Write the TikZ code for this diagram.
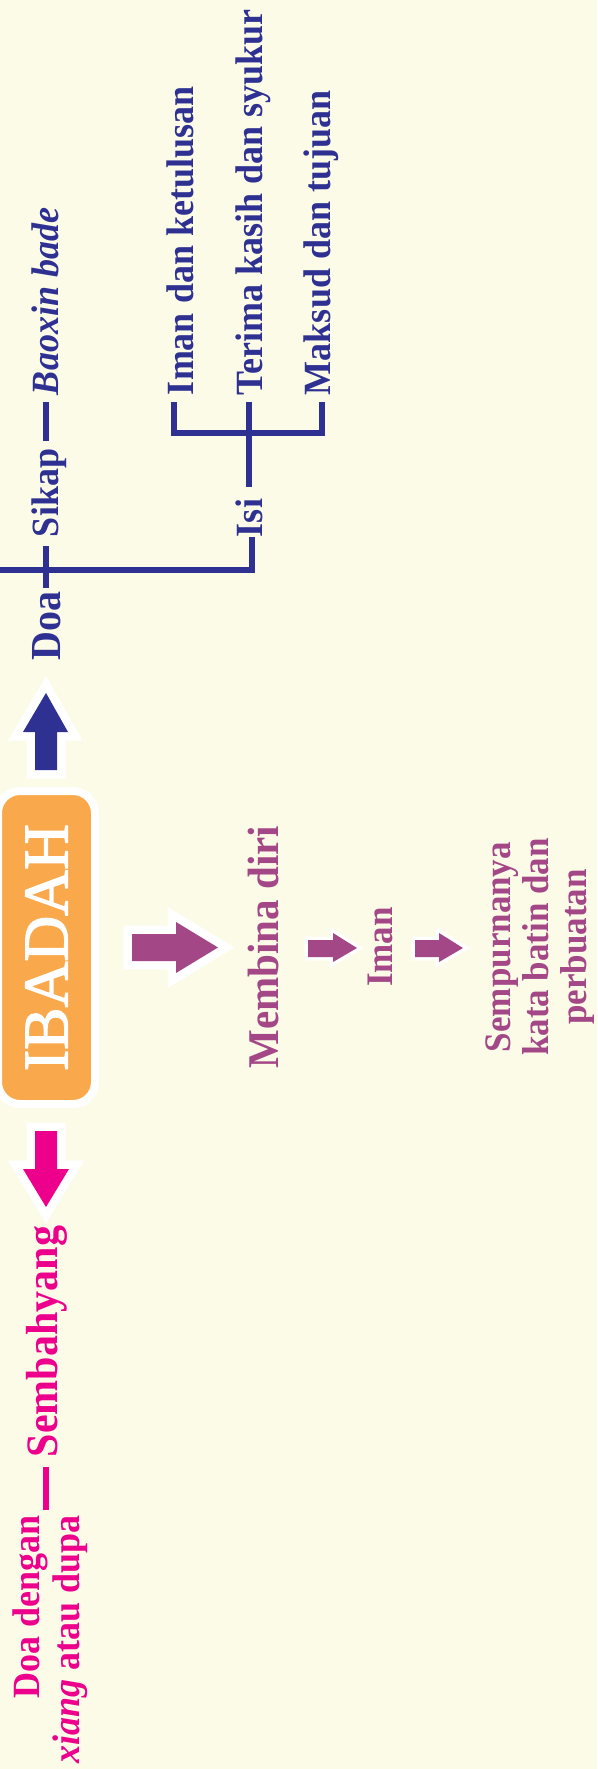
\documentclass[tikz,border=0pt]{standalone}
\usepackage{fontspec}
\setmainfont{Liberation Serif}
\newfontfamily\ibfont[FakeBold=2]{Liberation Serif}
\usetikzlibrary{calc}
\definecolor{bgc}{HTML}{FCFBE8}
\definecolor{blu}{HTML}{2E3192}
\definecolor{pnk}{HTML}{EC008C}
\definecolor{pur}{HTML}{A34787}
\definecolor{org}{HTML}{F9A94B}
\begin{document}
\begin{tikzpicture}[x=1pt,y=-1pt,
  txt/.style={rotate=90,yscale=1.07,inner sep=0pt,outer sep=0pt,font=\bfseries\fontsize{36}{40}\selectfont},
  bl/.style={draw=blu,line width=6pt,line join=miter},
  pl/.style={draw=pnk,line width=6pt},
  bigarrow/.style={fill=#1,preaction={draw=white,line width=17pt,line join=miter}},
  smallarrow/.style={fill=#1,preaction={draw=white,line width=7pt,line join=miter}}]
\useasboundingbox (0,0) rectangle (597,1769);
\fill[bgc] (0,0) rectangle (597,1769);

% blue branch
\node[txt,text=blu,anchor=base west,font=\bfseries\itshape\fontsize{36}{40}\selectfont] (baoxin) at (58,395) {Baoxin bade};
\node[txt,text=blu,anchor=base west] (sikap) at (58,537) {Sikap};
\node[txt,text=blu,anchor=base west,font=\bfseries\fontsize{40}{44}\selectfont] (doa) at (60,660) {Doa};
\node[txt,text=blu,anchor=base west] (iman1) at (193,395) {Iman dan ketulusan};
\node[txt,text=blu,anchor=base west] (terima) at (262,395) {Terima kasih dan syukur};
\node[txt,text=blu,anchor=base west] (maksud) at (330,395) {Maksud dan tujuan};
\node[txt,text=blu,anchor=base west] (isi) at (262,537) {Isi};
\coordinate (lft) at (0,570);
\coordinate (br) at (249,433);

\draw[bl] ([yshift=-7pt]baoxin.west -| doa.center) -- ([yshift=8pt]sikap.east -| doa.center);
\draw[bl] ([yshift=-9pt]sikap.west -| doa.center) -- ([yshift=3pt]doa.east);
\draw[bl] (lft) -| ([xshift=3pt]isi.west);
\draw[bl] ([yshift=12pt]isi.east -| br) -- ([yshift=-7pt]terima.west -| br);
\draw[bl] ([yshift=-7pt,xshift=-6pt]iman1.west) |- (br) -| ([yshift=-7pt,xshift=1.5pt]maksud.west);

% centre box
\node[rotate=90,draw=white,line width=8pt,fill=org,rounded corners=22pt,
      minimum width=313pt,minimum height=97pt,inner sep=0pt,text=white,
      font=\ibfont\fontsize{63.5}{70}\selectfont] (ibadah) at (46.5,947.5) {IBADAH};

% arrows
\path[bigarrow=blu] (46,693) -- (68,732) -- (57,732) -- (57,770) -- (35,770) -- (35,732) -- (23,732) -- cycle;
\path[bigarrow=pnk] (46,1207) -- (69,1169) -- (57,1169) -- (57,1131) -- (35,1131) -- (35,1169) -- (23,1169) -- cycle;
\path[bigarrow=pur] (218,947.5) -- (176,973) -- (176,961) -- (132,961) -- (132,934) -- (176,934) -- (176,922) -- cycle;
\path[smallarrow=pur] (357,948) -- (333,962) -- (333,957) -- (308,957) -- (308,940) -- (333,940) -- (333,933) -- cycle;
\path[smallarrow=pur] (463,948) -- (439,962) -- (439,957) -- (415,957) -- (415,940) -- (439,940) -- (439,933) -- cycle;

% purple branch
\node[txt,text=pur,anchor=base,font=\bfseries\fontsize{41}{45}\selectfont] (membina) at (278,947) {Membina diri};
\node[txt,text=pur,anchor=base,font=\bfseries\fontsize{35}{38}\selectfont] (iman2) at (392,947) {Iman};
\node[txt,text=pur,anchor=north,align=center,font=\bfseries\fontsize{35}{35.5}\selectfont] (semp) at (486,947) {Sempurnanya\\kata batin dan\\perbuatan};

% pink branch
\node[txt,text=pnk,anchor=base west,font=\bfseries\fontsize{42}{46}\selectfont] (semb) at (57,1457) {Sembahyang};
\node[txt,text=pnk,anchor=north east,align=right,font=\bfseries\fontsize{36}{37.4}\selectfont] (ddg) at (13,1515) {Doa dengan\\\textit{xiang} atau dupa};
\draw[pl] ([yshift=-10pt]semb.west) -- ([yshift=5pt]semb.west |- ddg.east);
\end{tikzpicture}
\end{document}
